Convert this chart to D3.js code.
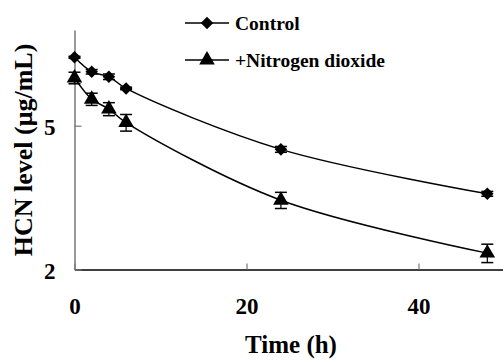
<!DOCTYPE html>
<html><head><meta charset="utf-8">
<script src="https://cdn.jsdelivr.net/npm/d3@7"></script>
<style>body{margin:0;background:#fff}svg{display:block}text{font-family:'Liberation Serif','Tinos','DejaVu Serif',serif;font-weight:bold}</style>
</head><body>
<svg id="c" width="503" height="362"></svg>
<script>
const times = [0, 2, 4, 6, 24, 48];
const controlValues = [7.73, 7.05, 6.83, 6.34, 4.30, 3.24];
const controlErrors = [0.05, 0.1, 0.12, 0.05, 0.08, 0.05];
const no2Values = [6.78, 5.92, 5.56, 5.10, 3.11, 2.22];
const no2Errors = [0.25, 0.23, 0.23, 0.27, 0.16, 0.13];
const xTicks = [0, 20, 40];
const yTicks = [2, 5];
const seriesNames = ["Control", "+Nitrogen dioxide"];

const FONT = "'Liberation Serif','Tinos','DejaVu Serif',serif";
const svg = d3.select("#c");
const x = d3.scaleLinear().domain([0, 50]).range([74.5, 504.5]);
const y = d3.scaleLog().domain([2, 9.2]).range([269.5, 30]);

const xa = svg.append("g").attr("transform", "translate(0,269.5)")
  .call(d3.axisBottom(x).tickValues(xTicks).tickSizeInner(-6).tickSizeOuter(0).tickPadding(28));
xa.select(".domain").attr("stroke", "#000").attr("stroke-width", 1.5);
xa.selectAll(".tick line").attr("stroke", "#777").attr("stroke-width", 1.2);
xa.selectAll(".tick text").attr("font-size", 23).attr("fill", "#000").attr("font-family", FONT).attr("font-weight", "bold");

const ya = svg.append("g").attr("transform", "translate(74.5,0)")
  .call(d3.axisLeft(y).tickValues(yTicks).tickFormat(d3.format("d")).tickSizeInner(-7).tickSizeOuter(0).tickPadding(19));
ya.select(".domain").attr("stroke", "#777").attr("stroke-width", 1.5);
ya.selectAll(".tick line").attr("stroke", "#777").attr("stroke-width", 1.2);
ya.selectAll(".tick text").attr("font-size", 23).attr("fill", "#000").attr("dy", "0.4em").attr("font-family", FONT).attr("font-weight", "bold");

svg.append("text").attr("x", 291).attr("y", 353).attr("text-anchor", "middle").attr("font-size", 25).attr("font-family", FONT).text("Time (h)");
svg.append("text").attr("transform", "translate(32,150) rotate(-90)").attr("text-anchor", "middle").attr("font-size", 26).attr("font-family", FONT).text("HCN level (μg/mL)");

const line = d3.line().x(d => x(d[0])).y(d => y(d[1])).curve(d3.curveCatmullRom.alpha(0.5));
const diamond = d3.symbol().type(d3.symbolDiamond2).size(100);
const triangle = d3.symbol().type(d3.symbolTriangle).size(105);

function drawSeries(vals, errs, sym) {
  const pts = times.map((t, i) => [t, vals[i]]);
  svg.append("path").datum(pts).attr("d", line).attr("fill", "none").attr("stroke", "#000").attr("stroke-width", 1.5);
  const g = svg.append("g");
  times.forEach((t, i) => {
    const cx = x(t), y1 = y(vals[i] + errs[i]), y2 = y(vals[i] - errs[i]);
    g.append("line").attr("x1", cx).attr("x2", cx).attr("y1", y1).attr("y2", y2).attr("stroke", "#000").attr("stroke-width", 1.2);
    [y1, y2].forEach(yy => g.append("line").attr("x1", cx - 6).attr("x2", cx + 6).attr("y1", yy).attr("y2", yy).attr("stroke", "#000").attr("stroke-width", 1.5));
    g.append("path").attr("d", sym).attr("transform", `translate(${cx},${y(vals[i])})`).attr("fill", "#000");
  });
}
drawSeries(controlValues, controlErrors, diamond);
drawSeries(no2Values, no2Errors, triangle);

const leg = [[23, diamond], [60, triangle]];
leg.forEach(([ly, sym], i) => {
  svg.append("line").attr("x1", 185).attr("x2", 229).attr("y1", ly).attr("y2", ly).attr("stroke", "#000").attr("stroke-width", 1.5);
  svg.append("path").attr("d", sym).attr("transform", `translate(207,${ly})`).attr("fill", "#000");
  svg.append("text").attr("x", 235).attr("y", ly).attr("dy", "0.35em").attr("font-size", 19.5).attr("font-family", FONT).text(seriesNames[i]);
});
</script>
</body></html>
